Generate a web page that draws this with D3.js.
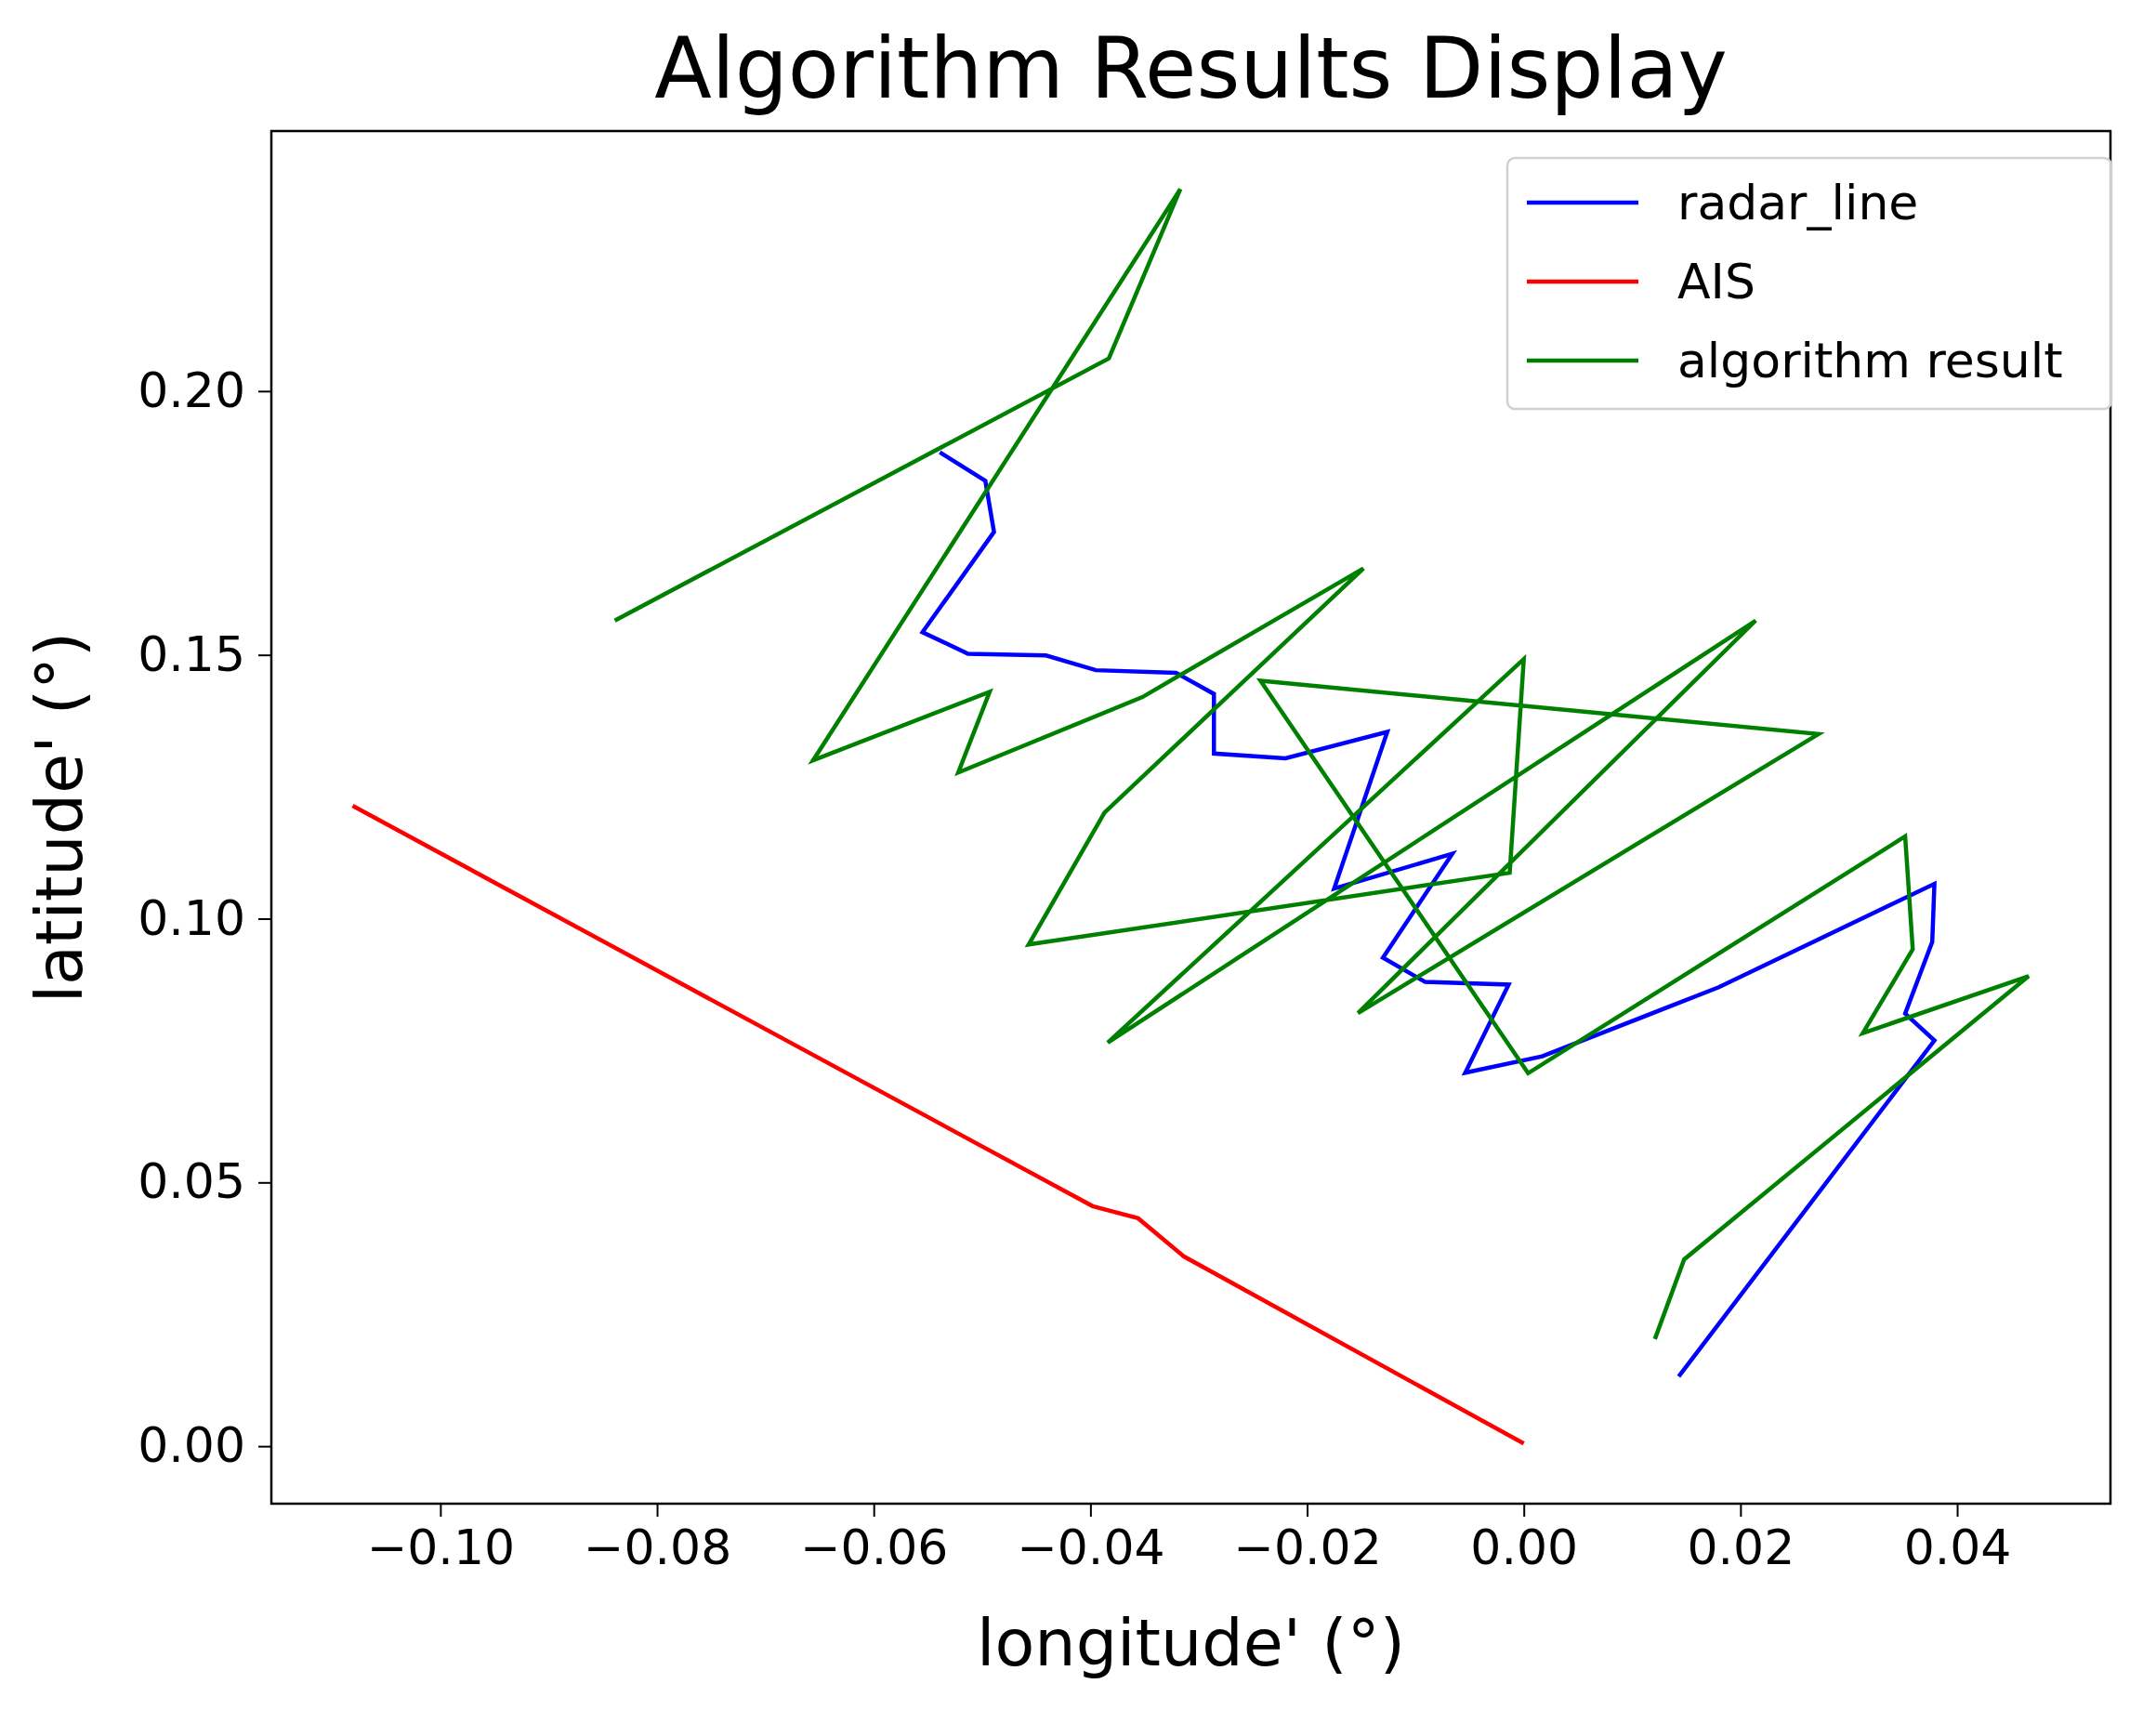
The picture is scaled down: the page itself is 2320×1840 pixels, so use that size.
<!DOCTYPE html>
<html>
<head>
<meta charset="utf-8">
<script src="https://cdn.jsdelivr.net/npm/d3@7"></script>
<style>
  body { margin: 0; background: #fff; }
  text { font-family: "DejaVu Sans", sans-serif; fill: #000; }
</style>
</head>
<body>
<div id="chart"></div>
<script>
// radar track [lon, lat]
const radarLine = [
  [-0.0539, 0.1884], [-0.0497, 0.1830], [-0.0489, 0.1733], [-0.0555, 0.1543],
  [-0.0513, 0.1502], [-0.0441, 0.1499], [-0.0395, 0.1471], [-0.0321, 0.1466],
  [-0.0286, 0.1426], [-0.0286, 0.1313], [-0.0220, 0.1304], [-0.0126, 0.1354],
  [-0.0175, 0.1057], [-0.0066, 0.1123], [-0.0130, 0.0926], [-0.0091, 0.0880],
  [-0.0014, 0.0875], [-0.0054, 0.0708], [0.0017, 0.0739], [0.0180, 0.0870],
  [0.0379, 0.1066], [0.0377, 0.0956], [0.0352, 0.0820], [0.0379, 0.0769],
  [0.0143, 0.0132]
];
const aisLine = [
  [-0.1081, 0.1214], [-0.0398, 0.0455], [-0.0356, 0.0432], [-0.0314, 0.0360],
  [0.0000, 0.0005]
];
const algoResult = [
  [-0.0839, 0.1565], [-0.0383, 0.2062], [-0.0317, 0.2383], [-0.0656, 0.1300],
  [-0.0493, 0.1430], [-0.0522, 0.1277], [-0.0352, 0.1420], [-0.0148, 0.1664],
  [-0.0387, 0.1201], [-0.0457, 0.0951], [-0.0013, 0.1087], [0.0000, 0.1492],
  [-0.0384, 0.0765], [0.0214, 0.1565], [-0.0153, 0.0821], [0.0272, 0.1350],
  [-0.0243, 0.1451], [0.0004, 0.0707], [0.0352, 0.1156], [0.0359, 0.0942],
  [0.0313, 0.0783], [0.0466, 0.0891], [0.0148, 0.0354], [0.0121, 0.0203]
];
const xTicks = [-0.10, -0.08, -0.06, -0.04, -0.02, 0.00, 0.02, 0.04];
const yTicks = [0.00, 0.05, 0.10, 0.15, 0.20];
const series = [
  { name: "radar_line", data: radarLine, color: "#0000ff" },
  { name: "AIS", data: aisLine, color: "#ff0000" },
  { name: "algorithm result", data: algoResult, color: "#008000" }
];

const W = 2320, H = 1840;
const pLeft = 292, pRight = 2271, pTop = 141, pBottom = 1618;

const svg = d3.select("#chart").append("svg")
  .attr("width", W).attr("height", H);

const x = d3.scaleLinear().domain([-0.1156, 0.05415]).range([pLeft, pRight]);
const y = d3.scaleLinear().domain([-0.0109, 0.2493]).range([pBottom, pTop]);

// lines
const line = d3.line().x(d => x(d[0])).y(d => y(d[1]));
svg.append("g").selectAll("path")
  .data(series)
  .join("path")
  .attr("d", d => line(d.data))
  .attr("fill", "none")
  .attr("stroke", d => d.color)
  .attr("stroke-width", 4.5)
  .attr("stroke-linejoin", "miter");

// axes
const xAxis = svg.append("g")
  .attr("transform", `translate(0,${pBottom})`)
  .call(d3.axisBottom(x).tickValues(xTicks).tickFormat(d3.format(".2f"))
    .tickSizeOuter(0).tickSizeInner(14).tickPadding(14));
const yAxis = svg.append("g")
  .attr("transform", `translate(${pLeft},0)`)
  .call(d3.axisLeft(y).tickValues(yTicks).tickFormat(d3.format(".2f"))
    .tickSizeOuter(0).tickSizeInner(14).tickPadding(14));
[xAxis, yAxis].forEach(a => {
  a.select(".domain").remove();
  a.selectAll("line").attr("stroke", "#000").attr("stroke-width", 2);
  a.selectAll("text").attr("font-size", 52).attr("font-family", "DejaVu Sans");
});

svg.append("rect")
  .attr("x", pLeft).attr("y", pTop)
  .attr("width", pRight - pLeft).attr("height", pBottom - pTop)
  .attr("fill", "none").attr("stroke", "#000").attr("stroke-width", 2.5);

// titles
svg.append("text").attr("x", (pLeft + pRight) / 2).attr("y", 105)
  .attr("text-anchor", "middle").attr("font-size", 90)
  .text("Algorithm Results Display");
svg.append("text").attr("x", (pLeft + pRight) / 2).attr("y", 1792)
  .attr("text-anchor", "middle").attr("font-size", 70)
  .text("longitude' (°)");
svg.append("text")
  .attr("transform", `translate(88,${(pTop + pBottom) / 2}) rotate(-90)`)
  .attr("text-anchor", "middle").attr("font-size", 70)
  .text("latitude' (°)");

// legend
const lg = svg.append("g");
lg.append("rect")
  .attr("x", 1622).attr("y", 170).attr("width", 650).attr("height", 270)
  .attr("rx", 8).attr("fill", "#fff").attr("fill-opacity", 0.8)
  .attr("stroke", "#d0d0d0").attr("stroke-width", 2.5);
const rows = lg.selectAll("g.row").data(series).join("g")
  .attr("class", "row")
  .attr("transform", (d, i) => `translate(0,${218 + i * 85})`);
rows.append("line").attr("x1", 1643).attr("x2", 1763)
  .attr("stroke", d => d.color).attr("stroke-width", 4.5);
rows.append("text").attr("x", 1805).attr("dy", "0.35em")
  .attr("font-size", 52).text(d => d.name);
</script>
</body>
</html>
